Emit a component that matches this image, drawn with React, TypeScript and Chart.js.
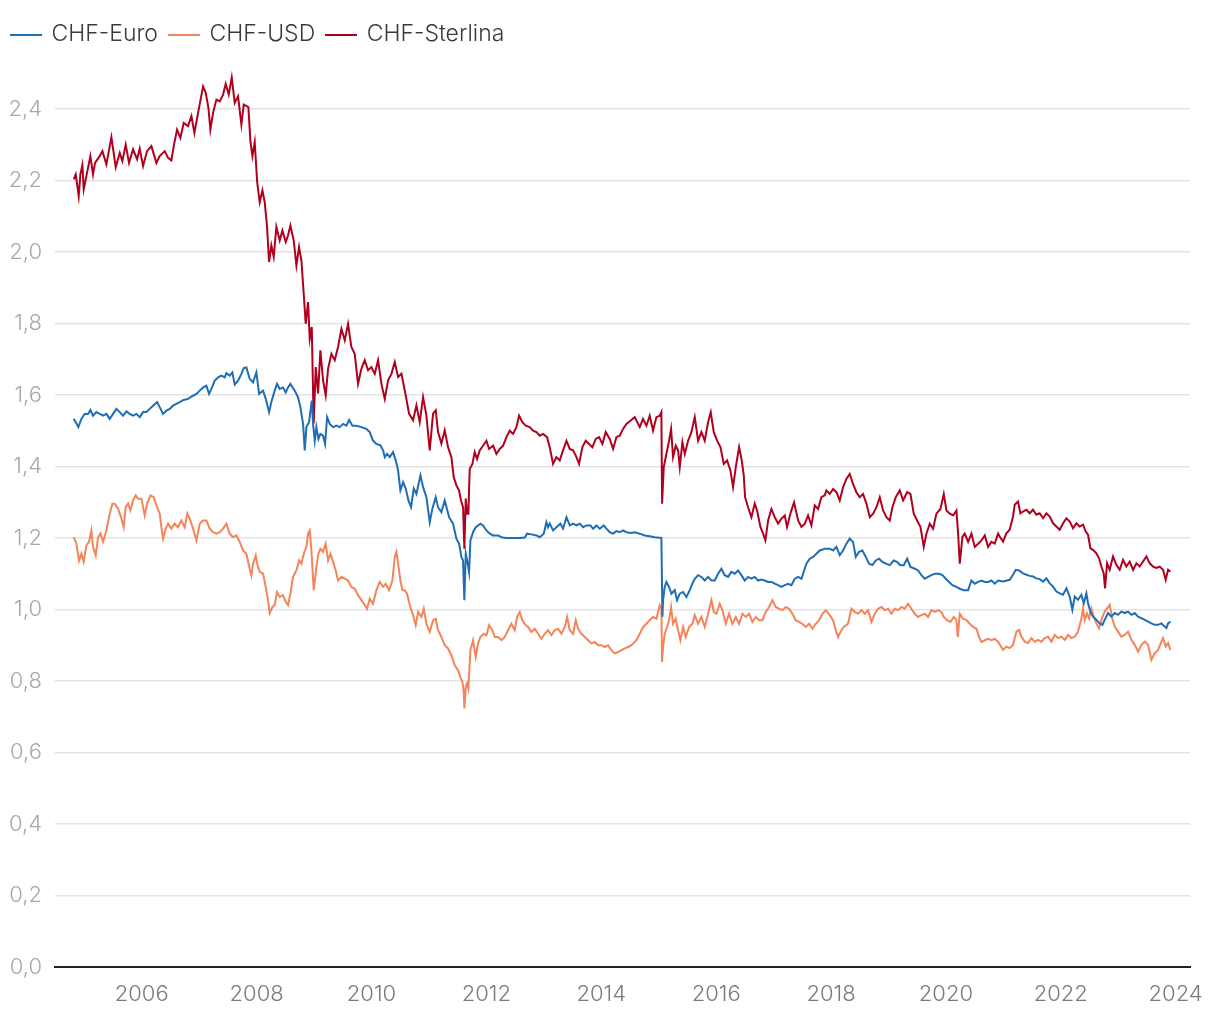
import React, { useEffect, useRef } from "react";
import { Chart, registerables } from "chart.js";

Chart.register(...registerables);

const seriesLabels = ["CHF-Euro", "CHF-USD", "CHF-Sterlina"];
const seriesColors = ["#1f6db5", "#f4845a", "#b0001e"];
const yearTicks = [2006, 2008, 2010, 2012, 2014, 2016, 2018, 2020, 2022, 2024];
const yTicks = [0, 0.2, 0.4, 0.6, 0.8, 1.0, 1.2, 1.4, 1.6, 1.8, 2.0, 2.2, 2.4];

// [decimal year, rate]
const euroSeries: [number, number][] = [
  [2004.816, 1.533], [2004.862, 1.521], [2004.897, 1.51], [2004.949, 1.533], [2005.007, 1.547], [2005.065, 1.547],
  [2005.106, 1.558], [2005.152, 1.542], [2005.21, 1.552], [2005.268, 1.547], [2005.326, 1.542], [2005.385, 1.547],
  [2005.443, 1.533], [2005.501, 1.547], [2005.559, 1.561], [2005.617, 1.552], [2005.675, 1.542], [2005.733, 1.554],
  [2005.791, 1.547], [2005.849, 1.542], [2005.907, 1.547], [2005.965, 1.538], [2006.023, 1.552], [2006.081, 1.552],
  [2006.139, 1.561], [2006.197, 1.57], [2006.267, 1.58], [2006.313, 1.566], [2006.371, 1.547], [2006.429, 1.556],
  [2006.487, 1.561], [2006.545, 1.57], [2006.603, 1.575], [2006.661, 1.58], [2006.731, 1.586], [2006.806, 1.589],
  [2006.865, 1.595], [2006.952, 1.603], [2007.01, 1.612], [2007.068, 1.621], [2007.126, 1.626], [2007.172, 1.603],
  [2007.213, 1.617], [2007.271, 1.64], [2007.329, 1.649], [2007.387, 1.654], [2007.445, 1.649], [2007.474, 1.661],
  [2007.532, 1.654], [2007.578, 1.663], [2007.619, 1.629], [2007.677, 1.64], [2007.735, 1.659], [2007.776, 1.675],
  [2007.822, 1.677], [2007.88, 1.645], [2007.938, 1.635], [2007.996, 1.663], [2008.043, 1.603], [2008.112, 1.612],
  [2008.159, 1.589], [2008.217, 1.552], [2008.257, 1.58], [2008.315, 1.612], [2008.356, 1.631], [2008.402, 1.617],
  [2008.46, 1.621], [2008.507, 1.607], [2008.547, 1.621], [2008.588, 1.631], [2008.664, 1.612], [2008.722, 1.593],
  [2008.762, 1.566], [2008.809, 1.519], [2008.838, 1.445], [2008.867, 1.51], [2008.913, 1.524], [2008.96, 1.584],
  [2008.983, 1.519], [2009.012, 1.472], [2009.041, 1.51], [2009.076, 1.477], [2009.11, 1.491], [2009.157, 1.486],
  [2009.192, 1.463], [2009.227, 1.538], [2009.273, 1.519], [2009.331, 1.51], [2009.389, 1.514], [2009.447, 1.51],
  [2009.505, 1.519], [2009.563, 1.514], [2009.61, 1.53], [2009.668, 1.514], [2009.737, 1.514], [2009.824, 1.51],
  [2009.911, 1.505], [2009.969, 1.496], [2010.027, 1.472], [2010.085, 1.463], [2010.155, 1.459], [2010.202, 1.445],
  [2010.231, 1.426], [2010.271, 1.435], [2010.318, 1.426], [2010.376, 1.44], [2010.422, 1.417], [2010.463, 1.389],
  [2010.503, 1.333], [2010.55, 1.356], [2010.596, 1.338], [2010.643, 1.305], [2010.689, 1.286], [2010.736, 1.338],
  [2010.782, 1.323], [2010.852, 1.375], [2010.898, 1.342], [2010.956, 1.314], [2011.014, 1.244], [2011.06, 1.282],
  [2011.118, 1.314], [2011.159, 1.286], [2011.217, 1.272], [2011.275, 1.305], [2011.351, 1.258], [2011.42, 1.24],
  [2011.478, 1.198], [2011.525, 1.184], [2011.565, 1.147], [2011.594, 1.137], [2011.617, 1.026], [2011.641, 1.156],
  [2011.675, 1.128], [2011.699, 1.104], [2011.722, 1.193], [2011.768, 1.216], [2011.815, 1.23], [2011.855, 1.235],
  [2011.896, 1.24], [2011.942, 1.235], [2012.001, 1.221], [2012.059, 1.212], [2012.117, 1.207], [2012.204, 1.207],
  [2012.262, 1.202], [2012.349, 1.2], [2012.465, 1.2], [2012.581, 1.2], [2012.668, 1.201], [2012.709, 1.212],
  [2012.784, 1.21], [2012.871, 1.207], [2012.929, 1.202], [2012.999, 1.212], [2013.045, 1.244], [2013.074, 1.23],
  [2013.103, 1.24], [2013.161, 1.221], [2013.219, 1.23], [2013.289, 1.24], [2013.335, 1.226], [2013.394, 1.258],
  [2013.452, 1.235], [2013.51, 1.24], [2013.568, 1.235], [2013.626, 1.24], [2013.684, 1.23], [2013.742, 1.235],
  [2013.811, 1.235], [2013.858, 1.226], [2013.916, 1.235], [2013.974, 1.226], [2014.044, 1.235], [2014.09, 1.226],
  [2014.148, 1.216], [2014.206, 1.212], [2014.264, 1.219], [2014.322, 1.216], [2014.38, 1.221], [2014.438, 1.216],
  [2014.525, 1.214], [2014.583, 1.216], [2014.67, 1.212], [2014.757, 1.207], [2014.844, 1.205], [2014.931, 1.202],
  [2015.047, 1.2], [2015.065, 0.98], [2015.076, 1.026], [2015.105, 1.063], [2015.134, 1.077], [2015.181, 1.063],
  [2015.222, 1.044], [2015.28, 1.054], [2015.32, 1.026], [2015.367, 1.044], [2015.425, 1.049], [2015.483, 1.035],
  [2015.541, 1.054], [2015.587, 1.073], [2015.628, 1.086], [2015.686, 1.096], [2015.744, 1.091], [2015.802, 1.081],
  [2015.86, 1.091], [2015.918, 1.081], [2015.976, 1.081], [2016.034, 1.1], [2016.092, 1.114], [2016.15, 1.096],
  [2016.208, 1.091], [2016.266, 1.105], [2016.324, 1.1], [2016.382, 1.109], [2016.44, 1.096], [2016.498, 1.081],
  [2016.556, 1.091], [2016.614, 1.086], [2016.672, 1.091], [2016.73, 1.081], [2016.789, 1.084], [2016.847, 1.081],
  [2016.905, 1.077], [2016.963, 1.077], [2017.021, 1.072], [2017.079, 1.068], [2017.137, 1.063], [2017.195, 1.068],
  [2017.253, 1.072], [2017.311, 1.068], [2017.369, 1.086], [2017.427, 1.091], [2017.485, 1.086], [2017.543, 1.114],
  [2017.572, 1.128], [2017.63, 1.142], [2017.688, 1.147], [2017.746, 1.156], [2017.804, 1.165], [2017.891, 1.17],
  [2017.978, 1.17], [2018.036, 1.165], [2018.094, 1.175], [2018.152, 1.152], [2018.21, 1.165], [2018.268, 1.184],
  [2018.326, 1.198], [2018.384, 1.189], [2018.431, 1.147], [2018.489, 1.161], [2018.547, 1.165], [2018.605, 1.147],
  [2018.663, 1.128], [2018.721, 1.124], [2018.779, 1.137], [2018.837, 1.142], [2018.895, 1.133], [2018.953, 1.128],
  [2019.023, 1.124], [2019.092, 1.137], [2019.15, 1.133], [2019.208, 1.124], [2019.267, 1.124], [2019.325, 1.142],
  [2019.383, 1.119], [2019.458, 1.114], [2019.516, 1.109], [2019.574, 1.096], [2019.632, 1.086], [2019.69, 1.091],
  [2019.748, 1.096], [2019.806, 1.1], [2019.882, 1.1], [2019.94, 1.096], [2019.998, 1.086], [2020.056, 1.077],
  [2020.114, 1.068], [2020.184, 1.063], [2020.242, 1.058], [2020.311, 1.054], [2020.387, 1.054], [2020.445, 1.081],
  [2020.503, 1.072], [2020.561, 1.077], [2020.619, 1.081], [2020.677, 1.077], [2020.735, 1.077], [2020.793, 1.081],
  [2020.851, 1.072], [2020.909, 1.081], [2020.995, 1.078], [2021.111, 1.083], [2021.169, 1.097], [2021.216, 1.111],
  [2021.274, 1.109], [2021.343, 1.101], [2021.401, 1.097], [2021.459, 1.094], [2021.517, 1.092], [2021.575, 1.087],
  [2021.633, 1.085], [2021.692, 1.078], [2021.75, 1.087], [2021.808, 1.073], [2021.866, 1.064], [2021.924, 1.05],
  [2021.982, 1.045], [2022.04, 1.041], [2022.098, 1.059], [2022.156, 1.036], [2022.202, 0.999], [2022.243, 1.036],
  [2022.301, 1.027], [2022.359, 1.041], [2022.4, 1.017], [2022.446, 1.045], [2022.475, 1.017], [2022.516, 0.994],
  [2022.562, 0.98], [2022.62, 0.971], [2022.678, 0.961], [2022.725, 0.957], [2022.765, 0.971], [2022.823, 0.99],
  [2022.881, 0.98], [2022.939, 0.99], [2022.997, 0.985], [2023.055, 0.994], [2023.113, 0.99], [2023.171, 0.994],
  [2023.23, 0.985], [2023.288, 0.99], [2023.346, 0.98], [2023.404, 0.976], [2023.462, 0.971], [2023.52, 0.966],
  [2023.578, 0.961], [2023.636, 0.957], [2023.694, 0.957], [2023.752, 0.961], [2023.81, 0.952], [2023.839, 0.948],
  [2023.868, 0.961], [2023.909, 0.966],
];

const usdSeries: [number, number][] = [
  [2004.816, 1.202], [2004.862, 1.184], [2004.909, 1.137], [2004.949, 1.156], [2004.99, 1.133], [2005.036, 1.179],
  [2005.083, 1.189], [2005.123, 1.221], [2005.152, 1.175], [2005.199, 1.151], [2005.239, 1.202], [2005.28, 1.212],
  [2005.326, 1.189], [2005.385, 1.221], [2005.443, 1.268], [2005.489, 1.296], [2005.53, 1.296], [2005.588, 1.282],
  [2005.646, 1.254], [2005.686, 1.23], [2005.721, 1.286], [2005.762, 1.296], [2005.802, 1.277], [2005.849, 1.305],
  [2005.895, 1.319], [2005.936, 1.31], [2005.994, 1.31], [2006.052, 1.263], [2006.093, 1.296], [2006.151, 1.319],
  [2006.209, 1.314], [2006.267, 1.286], [2006.313, 1.268], [2006.342, 1.23], [2006.371, 1.198], [2006.418, 1.226],
  [2006.458, 1.24], [2006.516, 1.226], [2006.574, 1.24], [2006.632, 1.23], [2006.69, 1.249], [2006.748, 1.23],
  [2006.795, 1.268], [2006.847, 1.249], [2006.894, 1.226], [2006.952, 1.193], [2007.01, 1.24], [2007.068, 1.249],
  [2007.126, 1.249], [2007.184, 1.226], [2007.242, 1.216], [2007.3, 1.212], [2007.358, 1.216], [2007.416, 1.226],
  [2007.474, 1.24], [2007.532, 1.212], [2007.59, 1.202], [2007.648, 1.207], [2007.706, 1.189], [2007.764, 1.165],
  [2007.822, 1.156], [2007.88, 1.114], [2007.909, 1.095], [2007.938, 1.128], [2007.985, 1.151], [2008.01, 1.128],
  [2008.054, 1.105], [2008.112, 1.1], [2008.159, 1.063], [2008.199, 1.026], [2008.228, 0.989], [2008.275, 1.007],
  [2008.315, 1.012], [2008.356, 1.049], [2008.402, 1.035], [2008.46, 1.04], [2008.507, 1.021], [2008.547, 1.012],
  [2008.588, 1.044], [2008.634, 1.091], [2008.693, 1.109], [2008.739, 1.137], [2008.78, 1.128], [2008.82, 1.156],
  [2008.867, 1.175], [2008.896, 1.212], [2008.925, 1.221], [2008.954, 1.165], [2008.994, 1.054], [2009.041, 1.119],
  [2009.076, 1.156], [2009.11, 1.17], [2009.157, 1.161], [2009.203, 1.184], [2009.244, 1.137], [2009.285, 1.156],
  [2009.331, 1.133], [2009.377, 1.109], [2009.418, 1.081], [2009.476, 1.091], [2009.534, 1.086], [2009.592, 1.081],
  [2009.65, 1.063], [2009.708, 1.058], [2009.766, 1.04], [2009.824, 1.026], [2009.882, 1.012], [2009.923, 1.002],
  [2009.969, 1.03], [2010.027, 1.016], [2010.085, 1.054], [2010.144, 1.077], [2010.202, 1.063], [2010.248, 1.072],
  [2010.306, 1.054], [2010.364, 1.081], [2010.405, 1.147], [2010.434, 1.161], [2010.463, 1.128], [2010.503, 1.081],
  [2010.538, 1.054], [2010.579, 1.054], [2010.619, 1.044], [2010.666, 1.012], [2010.724, 0.984], [2010.77, 0.956],
  [2010.811, 0.993], [2010.869, 0.979], [2010.91, 1.002], [2010.956, 0.96], [2011.014, 0.937], [2011.072, 0.97],
  [2011.119, 0.974], [2011.159, 0.942], [2011.217, 0.923], [2011.275, 0.9], [2011.333, 0.891], [2011.391, 0.872],
  [2011.449, 0.844], [2011.507, 0.83], [2011.548, 0.811], [2011.583, 0.797], [2011.606, 0.77], [2011.617, 0.723],
  [2011.641, 0.784], [2011.664, 0.793], [2011.687, 0.779], [2011.722, 0.886], [2011.768, 0.914], [2011.815, 0.867],
  [2011.855, 0.905], [2011.896, 0.923], [2011.954, 0.932], [2012.001, 0.928], [2012.047, 0.956], [2012.105, 0.942],
  [2012.146, 0.923], [2012.204, 0.923], [2012.262, 0.914], [2012.32, 0.923], [2012.378, 0.942], [2012.436, 0.96],
  [2012.494, 0.942], [2012.535, 0.979], [2012.581, 0.993], [2012.627, 0.97], [2012.685, 0.956], [2012.726, 0.951],
  [2012.784, 0.937], [2012.842, 0.946], [2012.9, 0.932], [2012.958, 0.918], [2013.016, 0.932], [2013.074, 0.942],
  [2013.132, 0.928], [2013.19, 0.942], [2013.248, 0.946], [2013.306, 0.932], [2013.365, 0.951], [2013.405, 0.979],
  [2013.452, 0.942], [2013.51, 0.932], [2013.556, 0.97], [2013.597, 0.946], [2013.655, 0.932], [2013.713, 0.923],
  [2013.771, 0.914], [2013.829, 0.905], [2013.887, 0.909], [2013.945, 0.9], [2014.003, 0.9], [2014.061, 0.895],
  [2014.119, 0.9], [2014.177, 0.886], [2014.235, 0.877], [2014.293, 0.881], [2014.351, 0.886], [2014.409, 0.891],
  [2014.467, 0.895], [2014.525, 0.9], [2014.612, 0.914], [2014.67, 0.932], [2014.728, 0.951], [2014.786, 0.96],
  [2014.844, 0.97], [2014.902, 0.979], [2014.96, 0.974], [2015.018, 1.012], [2015.047, 1.002], [2015.059, 0.853],
  [2015.076, 0.895], [2015.105, 0.932], [2015.146, 0.951], [2015.181, 0.97], [2015.216, 1.007], [2015.25, 0.96],
  [2015.297, 0.974], [2015.338, 0.942], [2015.378, 0.914], [2015.425, 0.951], [2015.471, 0.923], [2015.529, 0.951],
  [2015.587, 0.96], [2015.628, 0.984], [2015.686, 0.96], [2015.744, 0.979], [2015.802, 0.951], [2015.86, 0.988],
  [2015.918, 1.026], [2015.959, 0.993], [2016.005, 0.988], [2016.063, 1.016], [2016.11, 0.998], [2016.168, 0.96],
  [2016.226, 0.988], [2016.284, 0.96], [2016.342, 0.979], [2016.4, 0.96], [2016.458, 0.988], [2016.516, 0.979],
  [2016.574, 0.988], [2016.632, 0.965], [2016.69, 0.979], [2016.748, 0.97], [2016.806, 0.97], [2016.864, 0.993],
  [2016.922, 1.007], [2016.98, 1.026], [2017.038, 1.007], [2017.096, 1.002], [2017.154, 0.998], [2017.212, 1.007],
  [2017.27, 1.002], [2017.328, 0.988], [2017.386, 0.97], [2017.444, 0.965], [2017.502, 0.96], [2017.56, 0.951],
  [2017.618, 0.96], [2017.676, 0.946], [2017.735, 0.96], [2017.793, 0.97], [2017.851, 0.988], [2017.909, 0.998],
  [2017.978, 0.984], [2018.036, 0.97], [2018.083, 0.942], [2018.123, 0.923], [2018.164, 0.937], [2018.222, 0.951],
  [2018.297, 0.96], [2018.355, 1.002], [2018.413, 0.993], [2018.471, 0.988], [2018.529, 0.998], [2018.588, 0.988],
  [2018.646, 0.998], [2018.704, 0.965], [2018.762, 0.988], [2018.82, 1.002], [2018.878, 1.007], [2018.936, 0.998],
  [2018.994, 1.002], [2019.052, 0.988], [2019.11, 1.002], [2019.168, 0.998], [2019.226, 1.007], [2019.284, 1.002],
  [2019.342, 1.016], [2019.4, 1.002], [2019.458, 0.988], [2019.516, 0.979], [2019.574, 0.984], [2019.632, 0.988],
  [2019.69, 0.979], [2019.748, 0.998], [2019.806, 0.993], [2019.864, 0.998], [2019.922, 0.993], [2019.963, 0.979],
  [2020.021, 0.97], [2020.079, 0.965], [2020.137, 0.979], [2020.184, 0.97], [2020.207, 0.923], [2020.242, 0.988],
  [2020.3, 0.974], [2020.358, 0.97], [2020.416, 0.96], [2020.474, 0.951], [2020.532, 0.946], [2020.578, 0.923],
  [2020.619, 0.909], [2020.677, 0.914], [2020.735, 0.918], [2020.793, 0.914], [2020.851, 0.918], [2020.909, 0.909],
  [2020.995, 0.887], [2021.053, 0.896], [2021.111, 0.892], [2021.169, 0.901], [2021.227, 0.938], [2021.274, 0.943],
  [2021.314, 0.924], [2021.372, 0.91], [2021.43, 0.906], [2021.488, 0.92], [2021.546, 0.91], [2021.604, 0.915],
  [2021.662, 0.91], [2021.72, 0.92], [2021.779, 0.924], [2021.837, 0.91], [2021.895, 0.929], [2021.953, 0.92],
  [2022.011, 0.924], [2022.069, 0.915], [2022.127, 0.929], [2022.185, 0.92], [2022.243, 0.924], [2022.301, 0.938],
  [2022.359, 0.975], [2022.388, 1.003], [2022.417, 0.971], [2022.457, 0.989], [2022.492, 0.975], [2022.533, 1.003],
  [2022.574, 0.98], [2022.62, 0.961], [2022.667, 0.947], [2022.707, 0.971], [2022.765, 0.994], [2022.806, 1.003],
  [2022.852, 1.013], [2022.899, 0.975], [2022.939, 0.952], [2022.997, 0.938], [2023.055, 0.924], [2023.113, 0.929],
  [2023.171, 0.938], [2023.23, 0.915], [2023.288, 0.901], [2023.346, 0.882], [2023.404, 0.901], [2023.462, 0.91],
  [2023.52, 0.901], [2023.578, 0.859], [2023.636, 0.878], [2023.694, 0.887], [2023.752, 0.91], [2023.781, 0.92],
  [2023.827, 0.896], [2023.868, 0.906], [2023.909, 0.887],
];

const gbpSeries: [number, number][] = [
  [2004.816, 2.203], [2004.851, 2.217], [2004.903, 2.156], [2004.932, 2.217], [2004.967, 2.243], [2004.99, 2.175],
  [2005.036, 2.212], [2005.106, 2.268], [2005.152, 2.217], [2005.187, 2.249], [2005.268, 2.268], [2005.315, 2.282],
  [2005.385, 2.245], [2005.472, 2.321], [2005.547, 2.237], [2005.617, 2.277], [2005.663, 2.254], [2005.721, 2.3],
  [2005.779, 2.249], [2005.849, 2.287], [2005.919, 2.259], [2005.965, 2.289], [2006.023, 2.24], [2006.093, 2.282],
  [2006.168, 2.296], [2006.255, 2.249], [2006.313, 2.268], [2006.4, 2.282], [2006.458, 2.263], [2006.516, 2.256],
  [2006.557, 2.296], [2006.615, 2.342], [2006.673, 2.319], [2006.731, 2.361], [2006.806, 2.352], [2006.865, 2.38],
  [2006.917, 2.333], [2006.981, 2.389], [2007.068, 2.463], [2007.114, 2.445], [2007.161, 2.403], [2007.195, 2.342],
  [2007.242, 2.389], [2007.3, 2.426], [2007.358, 2.421], [2007.416, 2.44], [2007.462, 2.47], [2007.515, 2.44],
  [2007.567, 2.488], [2007.619, 2.417], [2007.677, 2.435], [2007.735, 2.356], [2007.776, 2.412], [2007.857, 2.405],
  [2007.892, 2.31], [2007.927, 2.268], [2007.967, 2.307], [2008.01, 2.195], [2008.054, 2.139], [2008.101, 2.172],
  [2008.141, 2.139], [2008.182, 2.07], [2008.217, 1.972], [2008.257, 2.018], [2008.298, 1.986], [2008.344, 2.07],
  [2008.402, 2.032], [2008.449, 2.06], [2008.507, 2.028], [2008.547, 2.046], [2008.588, 2.074], [2008.646, 2.032],
  [2008.693, 1.962], [2008.739, 2.014], [2008.78, 1.976], [2008.82, 1.883], [2008.855, 1.799], [2008.896, 1.86],
  [2008.925, 1.757], [2008.96, 1.79], [2008.994, 1.52], [2009.029, 1.678], [2009.07, 1.604], [2009.11, 1.725],
  [2009.157, 1.641], [2009.203, 1.599], [2009.244, 1.673], [2009.302, 1.715], [2009.36, 1.697], [2009.418, 1.734],
  [2009.476, 1.785], [2009.534, 1.753], [2009.592, 1.799], [2009.65, 1.734], [2009.708, 1.715], [2009.766, 1.631],
  [2009.824, 1.673], [2009.882, 1.697], [2009.94, 1.669], [2009.998, 1.678], [2010.057, 1.659], [2010.115, 1.697],
  [2010.173, 1.631], [2010.231, 1.589], [2010.289, 1.641], [2010.347, 1.659], [2010.405, 1.692], [2010.463, 1.65],
  [2010.521, 1.659], [2010.579, 1.613], [2010.654, 1.548], [2010.724, 1.529], [2010.782, 1.571], [2010.84, 1.524],
  [2010.898, 1.594], [2010.956, 1.543], [2011.014, 1.445], [2011.072, 1.548], [2011.119, 1.557], [2011.159, 1.496],
  [2011.217, 1.464], [2011.275, 1.501], [2011.333, 1.454], [2011.391, 1.426], [2011.432, 1.37], [2011.478, 1.347],
  [2011.525, 1.333], [2011.559, 1.305], [2011.594, 1.286], [2011.617, 1.17], [2011.641, 1.31], [2011.664, 1.268],
  [2011.687, 1.268], [2011.71, 1.393], [2011.757, 1.407], [2011.797, 1.44], [2011.838, 1.421], [2011.884, 1.445],
  [2011.942, 1.458], [2012.001, 1.472], [2012.047, 1.449], [2012.117, 1.458], [2012.175, 1.435], [2012.233, 1.449],
  [2012.291, 1.458], [2012.349, 1.482], [2012.407, 1.5], [2012.465, 1.491], [2012.523, 1.51], [2012.569, 1.542],
  [2012.627, 1.524], [2012.685, 1.514], [2012.755, 1.51], [2012.813, 1.5], [2012.871, 1.496], [2012.929, 1.486],
  [2012.987, 1.491], [2013.057, 1.482], [2013.103, 1.454], [2013.161, 1.407], [2013.219, 1.426], [2013.277, 1.417],
  [2013.335, 1.445], [2013.394, 1.472], [2013.452, 1.449], [2013.51, 1.445], [2013.568, 1.426], [2013.614, 1.407],
  [2013.672, 1.454], [2013.73, 1.472], [2013.788, 1.463], [2013.846, 1.454], [2013.904, 1.477], [2013.962, 1.482],
  [2014.02, 1.463], [2014.078, 1.496], [2014.148, 1.477], [2014.206, 1.449], [2014.264, 1.482], [2014.322, 1.486],
  [2014.38, 1.505], [2014.438, 1.519], [2014.508, 1.528], [2014.583, 1.538], [2014.67, 1.51], [2014.728, 1.533],
  [2014.786, 1.514], [2014.844, 1.542], [2014.902, 1.5], [2014.96, 1.538], [2015.018, 1.542], [2015.047, 1.552],
  [2015.059, 1.296], [2015.088, 1.398], [2015.134, 1.435], [2015.181, 1.472], [2015.216, 1.505], [2015.25, 1.426],
  [2015.297, 1.458], [2015.338, 1.445], [2015.367, 1.398], [2015.413, 1.468], [2015.454, 1.435], [2015.512, 1.472],
  [2015.57, 1.496], [2015.628, 1.538], [2015.686, 1.472], [2015.744, 1.496], [2015.802, 1.472], [2015.86, 1.524],
  [2015.906, 1.552], [2015.959, 1.496], [2016.017, 1.472], [2016.075, 1.454], [2016.133, 1.407], [2016.191, 1.417],
  [2016.249, 1.389], [2016.295, 1.342], [2016.342, 1.398], [2016.4, 1.454], [2016.446, 1.417], [2016.481, 1.375],
  [2016.504, 1.314], [2016.556, 1.286], [2016.614, 1.258], [2016.672, 1.296], [2016.713, 1.277], [2016.771, 1.231],
  [2016.818, 1.212], [2016.858, 1.193], [2016.905, 1.249], [2016.963, 1.281], [2017.021, 1.258], [2017.079, 1.24],
  [2017.137, 1.254], [2017.195, 1.263], [2017.235, 1.231], [2017.293, 1.268], [2017.357, 1.3], [2017.427, 1.249],
  [2017.485, 1.231], [2017.543, 1.24], [2017.601, 1.263], [2017.659, 1.235], [2017.717, 1.291], [2017.775, 1.281],
  [2017.833, 1.314], [2017.891, 1.319], [2017.92, 1.333], [2017.978, 1.323], [2018.036, 1.337], [2018.094, 1.328],
  [2018.152, 1.305], [2018.21, 1.342], [2018.268, 1.365], [2018.326, 1.379], [2018.384, 1.351], [2018.442, 1.328],
  [2018.5, 1.314], [2018.558, 1.323], [2018.617, 1.296], [2018.675, 1.258], [2018.733, 1.268], [2018.791, 1.286],
  [2018.849, 1.314], [2018.907, 1.277], [2018.965, 1.258], [2019.023, 1.249], [2019.069, 1.286], [2019.127, 1.314],
  [2019.197, 1.333], [2019.255, 1.305], [2019.325, 1.328], [2019.383, 1.323], [2019.441, 1.268], [2019.499, 1.249],
  [2019.557, 1.231], [2019.615, 1.175], [2019.661, 1.212], [2019.719, 1.24], [2019.777, 1.226], [2019.835, 1.268],
  [2019.905, 1.281], [2019.963, 1.323], [2020.01, 1.277], [2020.068, 1.268], [2020.126, 1.263], [2020.184, 1.277],
  [2020.213, 1.212], [2020.242, 1.128], [2020.288, 1.203], [2020.328, 1.212], [2020.387, 1.189], [2020.445, 1.212],
  [2020.503, 1.175], [2020.561, 1.184], [2020.619, 1.193], [2020.677, 1.207], [2020.735, 1.175], [2020.793, 1.189],
  [2020.851, 1.184], [2020.909, 1.212], [2020.937, 1.204], [2020.995, 1.19], [2021.053, 1.213], [2021.111, 1.223],
  [2021.169, 1.26], [2021.198, 1.293], [2021.256, 1.302], [2021.297, 1.269], [2021.343, 1.274], [2021.401, 1.279],
  [2021.459, 1.269], [2021.517, 1.279], [2021.575, 1.265], [2021.633, 1.269], [2021.692, 1.255], [2021.75, 1.269],
  [2021.808, 1.26], [2021.866, 1.241], [2021.924, 1.232], [2021.982, 1.223], [2022.04, 1.241], [2022.098, 1.255],
  [2022.156, 1.246], [2022.214, 1.227], [2022.272, 1.241], [2022.33, 1.232], [2022.388, 1.237], [2022.434, 1.218],
  [2022.475, 1.209], [2022.516, 1.171], [2022.562, 1.167], [2022.62, 1.157], [2022.667, 1.143], [2022.707, 1.12],
  [2022.748, 1.101], [2022.771, 1.059], [2022.806, 1.129], [2022.852, 1.111], [2022.91, 1.148], [2022.968, 1.125],
  [2023.026, 1.111], [2023.084, 1.139], [2023.142, 1.12], [2023.2, 1.134], [2023.259, 1.111], [2023.317, 1.129],
  [2023.375, 1.12], [2023.433, 1.134], [2023.491, 1.148], [2023.549, 1.129], [2023.607, 1.12], [2023.665, 1.116],
  [2023.723, 1.12], [2023.781, 1.111], [2023.827, 1.083], [2023.868, 1.111], [2023.909, 1.106],
];

const allSeries = [euroSeries, usdSeries, gbpSeries];

function legendLine(color: string): HTMLCanvasElement {
  const c = document.createElement("canvas");
  c.width = 32;
  c.height = 2;
  const ctx = c.getContext("2d");
  if (ctx) {
    ctx.fillStyle = color;
    ctx.fillRect(0, 0, 32, 2);
  }
  return c;
}

export default function App() {
  const canvasRef = useRef<HTMLCanvasElement | null>(null);

  useEffect(() => {
    const canvas = canvasRef.current;
    if (!canvas) return;
    const fontFamily = "Inter, 'Noto Sans', 'DejaVu Sans', sans-serif";
    const chart = new Chart(canvas, {
      type: "line",
      data: {
        datasets: allSeries.map((s, i) => ({
          label: seriesLabels[i],
          data: s.map(([x, y]) => ({ x, y })),
          borderColor: seriesColors[i],
          backgroundColor: seriesColors[i],
          borderWidth: 2,
          pointRadius: 0,
          pointStyle: legendLine(seriesColors[i]),
          tension: 0,
          fill: false,
        })),
      },
      options: {
        responsive: false,
        animation: false,
        events: [],
        layout: { padding: { top: 11, left: 0, right: 30, bottom: 0 } },
        plugins: {
          tooltip: { enabled: false },
          legend: {
            position: "top",
            align: "start",
            labels: {
              usePointStyle: true,
              pointStyleWidth: 28,
              boxHeight: 23,
              padding: 12,
              color: "#3a3a3a",
              font: { family: fontFamily, size: 23, weight: 300 },
            },
          },
        },
        scales: {
          x: {
            type: "linear",
            min: 2004.49,
            max: 2024.25,
            afterBuildTicks: (scale: any) => {
              scale.ticks = yearTicks.map((v) => ({ value: v }));
            },
            afterFit: (scale: any) => {
              scale.height = 53;
            },
            grid: { display: false, drawTicks: false },
            border: { display: true, color: "#222222", width: 2 },
            ticks: {
              autoSkip: false,
              maxRotation: 0,
              padding: 14,
              color: "#7a7a7a",
              font: { family: fontFamily, size: 22, weight: 300 },
              callback: (v: any) => String(v),
            },
          },
          y: {
            min: 0,
            max: 2.548,
            afterBuildTicks: (scale: any) => {
              scale.ticks = yTicks.map((v) => ({ value: v }));
            },
            afterFit: (scale: any) => {
              scale.width = 55;
            },
            grid: { color: "#e3e3e3", lineWidth: 1.5, drawTicks: false },
            border: { display: false },
            ticks: {
              padding: 13,
              crossAlign: "near",
              color: "#a8a8a8",
              font: { family: fontFamily, size: 22, weight: 300 },
              callback: (v: any) => Number(v).toFixed(1).replace(".", ","),
            },
          },
        },
      },
    });
    return () => chart.destroy();
  }, []);

  return (
    <div style={{ position: "absolute", left: 0, top: 0, width: 1220, height: 1020, background: "#ffffff" }}>
      <canvas ref={canvasRef} width={1220} height={1020} style={{ display: "block" }} />
    </div>
  );
}
